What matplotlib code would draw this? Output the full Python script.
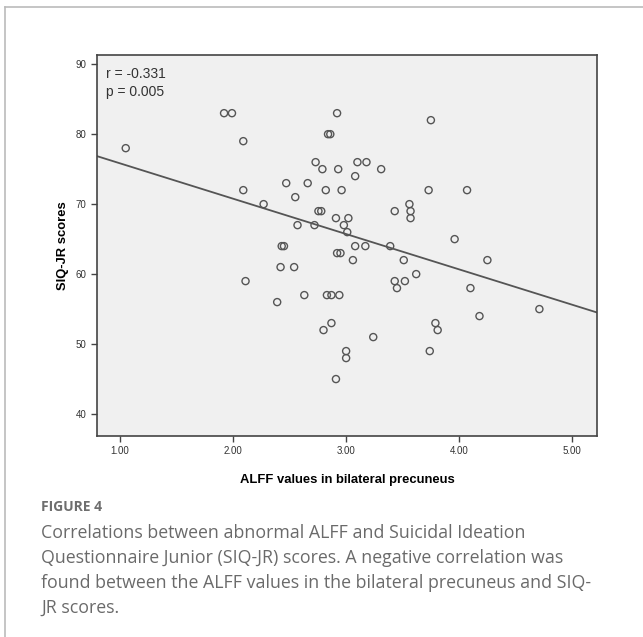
import numpy as np
import matplotlib
matplotlib.use('Agg')
import matplotlib.pyplot as plt
from matplotlib.lines import Line2D

# ALFF values (x) and SIQ-JR scores (y)
alff = [1.05, 1.92, 1.99, 2.09, 2.09, 2.11, 2.27, 2.39, 2.42, 2.43,
        2.45, 2.47, 2.54, 2.55, 2.57, 2.63, 2.66, 2.72, 2.73, 2.755,
        2.78, 2.79, 2.80, 2.82, 2.83, 2.84, 2.86, 2.87, 2.87, 2.91,
        2.91, 2.92, 2.92, 2.93, 2.94, 2.95, 2.96, 2.98, 3.00, 3.00,
        3.01, 3.02, 3.06, 3.08, 3.08, 3.10, 3.17, 3.18, 3.24, 3.31,
        3.39, 3.43, 3.43, 3.45, 3.51, 3.52, 3.56, 3.57, 3.57, 3.62,
        3.73, 3.74, 3.75, 3.79, 3.81, 3.96, 4.07, 4.10, 4.18, 4.25,
        4.71]
siq = [78, 83, 83, 79, 72, 59, 70, 56, 61, 64,
       64, 73, 61, 71, 67, 57, 73, 67, 76, 69,
       69, 75, 52, 72, 57, 80, 80, 57, 53, 68,
       45, 63, 83, 75, 57, 63, 72, 67, 49, 48,
       66, 68, 62, 74, 64, 76, 64, 76, 51, 75,
       64, 69, 59, 58, 62, 59, 70, 69, 68, 60,
       72, 49, 82, 53, 52, 65, 72, 58, 54, 62,
       55]
stats_text = ['r = -0.331', 'p = 0.005']
x_ticks = [1.0, 2.0, 3.0, 4.0, 5.0]
y_ticks = [40, 50, 60, 70, 80, 90]

plt.rcParams['font.family'] = ['Liberation Sans', 'DejaVu Sans']

fig = plt.figure(figsize=(6.43, 6.37), dpi=100)
ax = fig.add_axes([0.1509, 0.3155, 0.7776, 0.598])
ax.set_facecolor('#f0f0f0')

x = np.array(alff)
y = np.array(siq)
ax.scatter(x, y, s=26, facecolors='none', edgecolors='#555555', linewidths=1.0, zorder=3)

# least squares fit line across the full x range
slope, intercept = np.polyfit(x, y, 1)
xlim = (0.796, 5.22)
xl = np.array(xlim)
ax.plot(xl, intercept + slope * xl, color='#555555', lw=1.3, zorder=2)

ax.set_xlim(xlim)
ax.set_ylim(36.86, 91.3)
ax.set_xticks(x_ticks)
ax.set_xticklabels(['%.2f' % t for t in x_ticks])
ax.set_yticks(y_ticks)
ax.tick_params(direction='out', length=4, width=1, color='#444444', labelsize=7, labelcolor='#333333')
for sp in ax.spines.values():
    sp.set_color('#444444')
    sp.set_linewidth(1.2)

ax.set_xlabel('ALFF values in bilateral precuneus', fontsize=9.4, fontweight='bold', labelpad=13)
ax.set_ylabel('SIQ-JR scores', fontsize=9.4, fontweight='bold', labelpad=5)

ax.text(0.018, 0.968, '\n'.join(stats_text), transform=ax.transAxes, ha='left', va='top',
        fontsize=10, color='#333333', linespacing=1.37)

# outer panel frame
fig.add_artist(Line2D([5 / 643, 1], [1 - 7 / 637, 1 - 7 / 637], color='#bbbbbb', lw=1.2))
fig.add_artist(Line2D([5 / 643, 5 / 643], [0, 1 - 7 / 637], color='#bbbbbb', lw=1.2))

cap_font = ['Open Sans', 'DejaVu Sans']
fig.text(41 / 643, 1 - 507 / 637, 'FIGURE 4', fontsize=10, fontweight='bold', color='#6e6e6e',
         va='center', family=cap_font)
caption = ('Correlations between abnormal ALFF and Suicidal Ideation\n'
           'Questionnaire Junior (SIQ-JR) scores. A negative correlation was\n'
           'found between the ALFF values in the bilateral precuneus and SIQ-\n'
           'JR scores.')
fig.text(41 / 643, 1 - 524 / 637, caption, fontsize=12.8, color='#6a6a6a', va='top',
         family=cap_font, linespacing=1.5)

fig.savefig('out.png', dpi=100)
